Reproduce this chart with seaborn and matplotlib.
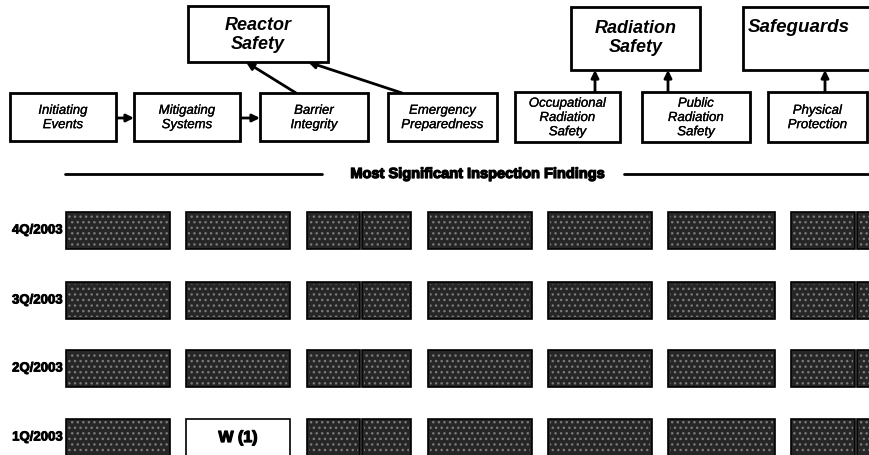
import matplotlib
matplotlib.use("Agg")
import matplotlib.pyplot as plt
import matplotlib.patheffects as pe
from matplotlib.patches import Rectangle
import seaborn as sns

sns.set_style("white")
plt.rcParams['font.family'] = ['Liberation Sans', 'DejaVu Sans']
plt.rcParams['text.color'] = 'black'
plt.rcParams['hatch.linewidth'] = 1.0

# Cornerstone boxes and their grouping
groups = ["Reactor\nSafety", "Radiation\nSafety", "Safeguards"]
cornerstones = ["Initiating\nEvents", "Mitigating\nSystems", "Barrier\nIntegrity",
                "Emergency\nPreparedness", "Occupational\nRadiation\nSafety",
                "Public\nRadiation\nSafety", "Physical\nProtection"]

# Quarters and most significant finding per cell (Barrier Integrity and
# Physical Protection are split into two cells)
quarters = ["4Q/2003", "3Q/2003", "2Q/2003", "1Q/2003"]
findings_4q = ["G", "G", "G", "G", "G", "G", "G", "G", "G"]
findings_3q = ["G", "G", "G", "G", "G", "G", "G", "G", "G"]
findings_2q = ["G", "G", "G", "G", "G", "G", "G", "G", "G"]
findings_1q = ["G", "W (1)", "G", "G", "G", "G", "G", "G", "G"]
findings = [findings_4q, findings_3q, findings_2q, findings_1q]

# ---- layout (pixel coordinates) ----
group_boxes = [(188, 6, 140, 56), (571, 7, 129, 63), (743, 7, 140, 63)]
group_text_y = [35, 38, 28]
corner_boxes = [(10, 93, 106, 48), (134, 93, 106, 48), (260, 93, 108, 48),
                (388, 93, 109, 48), (515, 92, 105, 50), (642, 92, 108, 50),
                (768, 92, 99, 50)]
cell_left = [66, 186, 307, 362, 428, 548, 668, 791, 857]
cell_width = [104, 104, 53, 49, 104, 104, 107, 64, 20]
row_top = [212, 282, 350, 419]
row_h = 37

dark = "#262626"
heavy = [pe.withStroke(linewidth=0.9, foreground="black")]

fig = plt.figure(figsize=(8.69, 4.55), dpi=100)
ax = fig.add_axes([0, 0, 1, 1])
ax.set_xlim(0, 869)
ax.set_ylim(455, 0)
ax.axis("off")

arrow = dict(arrowstyle="-|>", color="black", lw=2.0, mutation_scale=11,
             shrinkA=0, shrinkB=0)

# arrows between cornerstones and up to the strategic areas
ax.annotate("", xy=(134, 118), xytext=(116, 118), arrowprops=arrow)
ax.annotate("", xy=(260, 118), xytext=(240, 118), arrowprops=arrow)
ax.annotate("", xy=(246, 62), xytext=(296, 93), arrowprops=arrow)
ax.annotate("", xy=(308, 62), xytext=(402, 93), arrowprops=arrow)
ax.annotate("", xy=(595, 70), xytext=(595, 92), arrowprops=arrow)
ax.annotate("", xy=(668, 70), xytext=(668, 92), arrowprops=arrow)
ax.annotate("", xy=(825, 70), xytext=(825, 92), arrowprops=arrow)

for (x, y, w, h), label, ty in zip(group_boxes, groups, group_text_y):
    ax.add_patch(Rectangle((x, y), w, h, facecolor="white", edgecolor="black",
                           lw=2.0, zorder=3))
    if label == "Safeguards":
        ax.text(748, ty, label, ha="left", va="center", fontsize=13.5,
                fontweight="bold", fontstyle="italic", zorder=4)
    else:
        ax.text(x + w / 2, ty, label, ha="center", va="center", fontsize=13,
                fontweight="bold", fontstyle="italic", linespacing=1.2, zorder=4)

for (x, y, w, h), label in zip(corner_boxes, cornerstones):
    ax.add_patch(Rectangle((x, y), w, h, facecolor="white", edgecolor="black",
                           lw=2.0, zorder=3))
    ax.text(x + w / 2, y + h / 2 + 1, label, ha="center", va="center",
            fontsize=9.5, fontstyle="italic", linespacing=1.25, zorder=4,
            path_effects=[pe.withStroke(linewidth=0.2, foreground="black")])

# section heading
ax.plot([65, 322], [174, 174], color="black", lw=2.0)
ax.plot([624, 869], [174, 174], color="black", lw=2.0)
ax.text(478, 174, "Most Significant Inspection Findings", ha="center", va="center",
        fontsize=10.5, fontweight="bold", path_effects=heavy,
        family=["Liberation Sans Narrow", "Liberation Sans", "DejaVu Sans"])

# finding cells
for top, quarter, row in zip(row_top, quarters, findings):
    yc = top + row_h / 2
    colors = ["white" if f.startswith("W") else dark for f in row]
    ax.barh([yc] * len(row), cell_width, left=cell_left, height=row_h,
            color=colors, edgecolor="black", lw=1.2)
    dark_idx = [i for i, f in enumerate(row) if not f.startswith("W")]
    ax.barh([yc] * len(dark_idx), [cell_width[i] - 4 for i in dark_idx],
            left=[cell_left[i] + 2 for i in dark_idx], height=row_h - 4,
            color="none", edgecolor="#7a7a7a", lw=0, hatch="...")
    ax.text(63, yc, quarter, ha="right", va="center", fontsize=9.5,
            fontweight="bold",
            path_effects=[pe.withStroke(linewidth=0.6, foreground="black")])
    for f, l, w in zip(row, cell_left, cell_width):
        if f.startswith("W"):
            ax.text(l + w / 2, yc, f, ha="center", va="center", fontsize=11.5,
                    fontweight="bold", path_effects=heavy)

fig.savefig("out.png", dpi=100)
